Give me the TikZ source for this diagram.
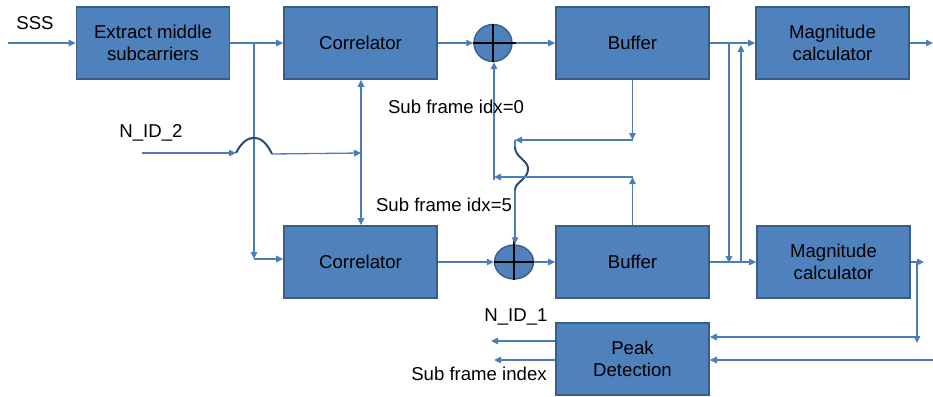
\documentclass[tikz,border=0pt]{standalone}
\usepackage{fontspec}
\setmainfont{Liberation Sans}
\usetikzlibrary{arrows.meta,shapes.geometric,calc}
\definecolor{boxfill}{HTML}{4F81BD}
\definecolor{boxedge}{HTML}{385D8A}
\definecolor{wirecol}{HTML}{4A7EBB}
\definecolor{hopcol}{HTML}{2B4A72}
\newcommand{\lblfont}{\fontsize{18.6}{21.5}\selectfont}
\tikzset{
  blk/.style={draw=boxedge, fill=boxfill, line width=1.6pt, minimum width=153pt,
    minimum height=72pt, inner sep=0pt, align=center, font=\lblfont, text=black},
  adder/.style={ellipse, draw=boxedge, fill=boxfill, line width=1.4pt, inner sep=0pt},
  plusbar/.style={draw=black, line width=1.4pt},
  wire/.style={draw=wirecol, line width=1.3pt},
  arr/.style={wire, -{Triangle[length=7pt,width=6.5pt]}},
  hop/.style={draw=hopcol, line width=2pt},
  lbl/.style={font=\lblfont, text=black, inner sep=0pt},
}
\begin{document}
\begin{tikzpicture}[x=1pt, y=-1pt]
\useasboundingbox (0,0) rectangle (933,396);

% processing blocks
\node[blk] (ext)  at (153,43)    {Extract middle\\subcarriers};
\node[blk] (cor1) at (360.5,43)  {Correlator};
\node[blk] (cor2) at (360.5,262) {Correlator};
\node[blk] (buf1) at (632.5,43)  {Buffer};
\node[blk] (buf2) at (632.5,262) {Buffer};
\node[blk] (mag1) at (832.5,43)  {Magnitude\\calculator};
\node[blk] (mag2) at (833.5,262) {Magnitude\\calculator};
\node[blk] (peak) at (632.5,359) {Peak\\Detection};

% summing junctions
\node[adder, minimum width=38pt, minimum height=37pt] (add1) at (493,43) {};
\node[adder, minimum width=39pt, minimum height=34pt] (add2) at (514,262) {};
\draw[plusbar] (add1.north) -- (add1.south);
\draw[plusbar] (add1.west) -- ($(add1.east)+(3,0)$);
\draw[plusbar] ($(add2.north)+(0,-4)$) -- (add2.south);
\draw[plusbar] (add2.west) -- (add2.east);

% input and split to both correlators
\coordinate (sssin) at (8,43);
\coordinate (br1)   at (254,43);
\coordinate (br1d)  at (254,259);
\draw[arr] (sssin) -- (ext.west);
\draw[arr] (ext.east) -- (cor1.west);
\draw[arr] (br1) -- (br1d);
\draw[arr] (br1d) -- (cor2.west |- br1d);

% N_ID_2 feed with line hop
\coordinate (nid2in) at (142,153);
\coordinate (hopa)   at (236,153);
\coordinate (hopb)   at (272,154);
\coordinate (nid2j)  at (361,153);
\draw[arr] (nid2in) -- (hopa);
\draw[hop] (hopa) .. controls (246,133) and (262,132) .. (hopb);
\draw[arr] (hopb) -- (nid2j);
\draw[arr] (nid2j) -- (nid2j |- cor1.south);
\draw[arr] (nid2j) -- (nid2j |- cor2.north);

% correlators to adders to buffers
\draw[arr] (cor1.east) -- (add1.west);
\draw[arr] ($(add1.east)+(3,0)$) -- (buf1.west);
\draw[arr] (cor2.east) -- (add2.west);
\draw[arr] (add2.east) -- (buf2.west);

% buffer 1 fed back to the lower adder
\coordinate (s0) at (515,140);
\coordinate (s1) at (515,147);
\coordinate (s2) at (515,190);
\draw[arr] (buf1.south) -- (buf1.south |- s0);
\draw[arr] (buf1.south |- s0) -- (s0);
\draw[wire] (s0) -- (s1);
\draw[hop] (s1) .. controls (515,158) and (529,160) .. (528,170)
               .. controls (527,180) and (515,182) .. (s2);
\draw[arr] (s2) -- (s2 |- add2.north);

% buffer 2 fed back to the upper adder
\coordinate (t0) at (494,177);
\coordinate (t1) at (494,180);
\draw[arr] (buf2.north) -- (buf2.north |- t0);
\draw[arr] (buf2.north |- t0) -- (t0);
\draw[arr] (t1) -- (t1 |- add1.south);

% buffers to magnitude calculators, with cross links
\coordinate (v1a) at (729,43);
\coordinate (v1b) at (729,263);
\coordinate (v2a) at (741,262);
\coordinate (v2b) at (741,45);
\draw[arr] (buf1.east) -- (mag1.west);
\draw[arr] (buf2.east) -- (mag2.west);
\draw[arr] (v1a) -- (v1b);
\draw[arr] (v2a) -- (v2b);

% magnitude outputs
\coordinate (m1o) at (933,43);
\coordinate (m2o) at (924,262);
\coordinate (m2v) at (917,262);
\coordinate (m2d) at (917,343);
\coordinate (m2h) at (917,337);
\coordinate (pin) at (933,360);
\draw[arr] (mag1.east) -- (m1o);
\draw[arr] (mag2.east) -- (m2o);
\draw[arr] (m2v) -- (m2d);
\draw[arr] (m2h) -- (peak.east |- m2h);
\draw[arr] (pin) -- (peak.east |- pin);

% peak detection outputs
\coordinate (o1) at (491,341);
\coordinate (o2) at (494,360);
\draw[arr] (peak.west |- o1) -- (o1);
\draw[arr] (peak.west |- o2) -- (o2);

% labels
\node[lbl] (sss)  at (35,23)   {SSS};
\node[lbl] (nid2) at (151,133) {N\_ID\_2};
\node[lbl] (sf0)  at (456,107) {Sub frame idx=0};
\node[lbl] (sf5)  at (444,205) {Sub frame idx=5};
\node[lbl] (nid1) at (516,317) {N\_ID\_1};
\node[lbl] (sfi)  at (479,374) {Sub frame index};
\end{tikzpicture}
\end{document}
